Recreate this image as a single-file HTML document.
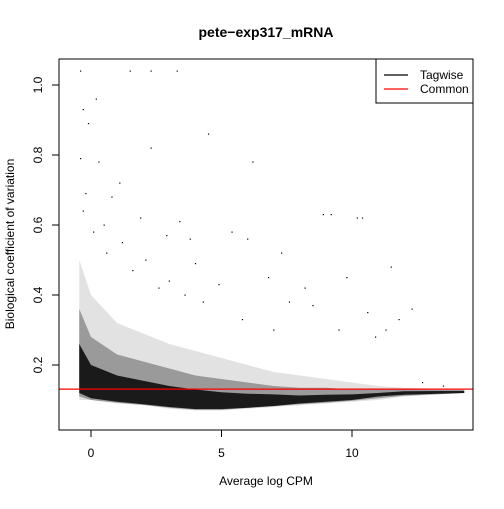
<!DOCTYPE html>
<html><head><meta charset="utf-8"><style>
html,body{margin:0;padding:0;background:#fff;}
svg text{font-family:"Liberation Sans",sans-serif;}
</style></head><body>
<svg id="chart" width="504" height="504" viewBox="0 0 504 504">
<rect width="504" height="504" fill="#fff"/>
<text x="266" y="37" font-size="14" font-weight="bold" text-anchor="middle">pete−exp317_mRNA</text>
<g id="clouds"></g>
<g id="points"></g>
<g id="axes"></g>
</svg>
<script>
// dense-cloud envelope (binned)
const cpmBins   = [-0.45, 0, 1, 2, 3, 4, 5, 6, 7, 8, 9, 10, 11, 12, 14.3];
const outerLow  = [0.10, 0.10, 0.09, 0.085, 0.075, 0.07, 0.07, 0.075, 0.08, 0.085, 0.09, 0.095, 0.10, 0.11, 0.12];
const outerHigh = [0.50, 0.40, 0.32, 0.29, 0.26, 0.24, 0.22, 0.20, 0.18, 0.17, 0.16, 0.15, 0.14, 0.135, 0.13];
const midLow    = [0.11, 0.10, 0.092, 0.086, 0.078, 0.072, 0.072, 0.077, 0.082, 0.088, 0.092, 0.098, 0.105, 0.112, 0.12];
const midHigh   = [0.36, 0.28, 0.23, 0.21, 0.19, 0.17, 0.16, 0.15, 0.14, 0.135, 0.135, 0.13, 0.13, 0.13, 0.128];
const coreLow   = [0.12, 0.105, 0.095, 0.088, 0.08, 0.074, 0.074, 0.078, 0.083, 0.09, 0.095, 0.10, 0.11, 0.115, 0.12];
const coreHigh  = [0.26, 0.20, 0.17, 0.155, 0.14, 0.13, 0.122, 0.118, 0.116, 0.113, 0.115, 0.116, 0.12, 0.125, 0.126];
// scattered outlier genes
const outX = [-0.4,0.2,-0.3,1.5,2.3,3.3,-0.1,0.3,-0.4,2.3,4.5,6.2,-0.2,0.8,1.1,1.9,3.4,3.8,5.4,8.9,9.2,10.2,10.4,11.5,12.3,0.5,1.2,2.9,4.0,6.0,7.3,8.2,9.8,10.6,11.8,-0.3,0.1,0.6,2.1,3.0,4.9,6.8,7.6,8.5,9.5,10.9,11.3,12.7,13.5,5.8,7.0,1.6,2.6,3.6,4.3];
const outY = [1.04,0.96,0.93,1.04,1.04,1.04,0.89,0.78,0.79,0.82,0.86,0.78,0.69,0.68,0.72,0.62,0.61,0.56,0.58,0.63,0.63,0.62,0.62,0.48,0.36,0.60,0.55,0.57,0.49,0.56,0.52,0.42,0.45,0.35,0.33,0.64,0.58,0.52,0.50,0.44,0.43,0.45,0.38,0.37,0.30,0.28,0.30,0.15,0.14,0.33,0.30,0.47,0.42,0.40,0.38];
const commonBCV = 0.131;
const xTicks = [0, 5, 10];
const yTicks = [0.2, 0.4, 0.6, 0.8, 1.0];

const NS = "http://www.w3.org/2000/svg";
const L=59,R=473,T=59,B=430;
const xs = v => 91 + v*26.1;
const ys = v => 365 - (v-0.2)*350;
function mk(tag, attrs, parent){const e=document.createElementNS(NS,tag);for(const k in attrs)e.setAttribute(k,attrs[k]);parent.appendChild(e);return e;}
const clouds=document.getElementById('clouds'), pts=document.getElementById('points'), ax=document.getElementById('axes');

function band(lo,hi,fill,name){
  let d="M"+cpmBins.map((c,i)=>xs(c)+","+ys(hi[i])).join(" L");
  d+=" L"+cpmBins.slice().reverse().map((c,j)=>{const i=cpmBins.length-1-j;return xs(c)+","+ys(lo[i]);}).join(" L")+"Z";
  const p=mk('path',{d:d,fill:fill},clouds);
  
  
}
band(outerLow,outerHigh,"#e2e2e2","sparse-gene-cloud");
band(midLow,midHigh,"#9a9a9a","medium-gene-cloud");
band(coreLow,coreHigh,"#1a1a1a","dense-gene-cloud");

outX.forEach((x,i)=>{
  const r=mk('rect',{x:xs(x)-0.5,y:ys(outY[i])-0.5,width:1.2,height:1.2,fill:"#000"},pts);
  
  
});

const cl=mk('line',{x1:L,x2:R,y1:ys(commonBCV),y2:ys(commonBCV),stroke:"#f00","stroke-width":1.3},ax);



const box=mk('rect',{x:L,y:T,width:R-L,height:B-T,fill:"none",stroke:"#000","stroke-width":1},ax);



xTicks.forEach(t=>{
  const l=mk('line',{x1:xs(t),x2:xs(t),y1:B,y2:B+7,stroke:"#000"},ax);
  
  
  const tx=mk('text',{x:xs(t),y:457,"font-size":12,"text-anchor":"middle"},ax);
  tx.textContent=t;
  
  
});
yTicks.forEach(t=>{
  const l=mk('line',{x1:L-7,x2:L,y1:ys(t),y2:ys(t),stroke:"#000"},ax);
  
  
  const tx=mk('text',{x:0,y:0,"font-size":12,"text-anchor":"middle",transform:`translate(42,${ys(t)}) rotate(-90)`},ax);
  tx.textContent=t.toFixed(1);
  
  
});
const xt=mk('text',{x:266,y:485,"font-size":12,"text-anchor":"middle"},ax);
xt.textContent="Average log CPM";


const yt=mk('text',{x:0,y:0,"font-size":12,"text-anchor":"middle",transform:"translate(14,244) rotate(-90)"},ax);
yt.textContent="Biological coefficient of variation";



const lg=mk('g',{},ax);


mk('rect',{x:376,y:59,width:97,height:44,fill:"#fff",stroke:"#000"},lg);
[["Tagwise","#000",75],["Common","#f00",89]].forEach(e=>{
  const g=mk('g',{},lg);
  
  
  mk('line',{x1:384,x2:408,y1:e[2],y2:e[2],stroke:e[1],"stroke-width":1.3},g);
  const t=mk('text',{x:420,y:e[2]+4,"font-size":12},g);
  t.textContent=e[0];
});
</script>
</body></html>
